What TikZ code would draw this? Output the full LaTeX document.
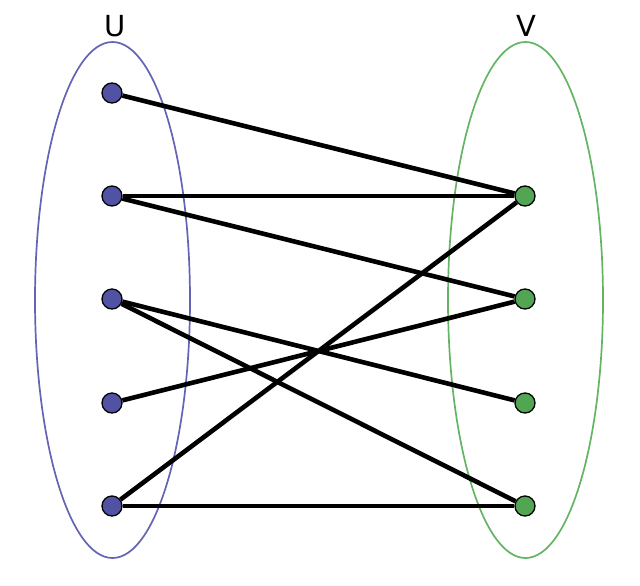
\documentclass[tikz,border=0pt]{standalone}
\usepackage{fontspec}
\setmainfont{DejaVu Sans}
\definecolor{ublue}{RGB}{82,82,165}
\definecolor{uline}{RGB}{100,100,180}
\definecolor{vgreen}{RGB}{82,165,82}
\definecolor{vline}{RGB}{100,180,100}
\begin{document}
\begin{tikzpicture}[x=1pt,y=-1pt,
  unode/.style={circle,draw=black,line width=1.3pt,fill=ublue,minimum size=20pt,inner sep=0pt},
  vnode/.style={circle,draw=black,line width=1.3pt,fill=vgreen,minimum size=20pt,inner sep=0pt},
  edge/.style={line width=4.6pt,black},
  lbl/.style={font=\fontsize{29}{31}\selectfont,inner sep=0pt}]
\useasboundingbox (0,0) rectangle (640,586);
\draw[uline,line width=1.7pt] (112.5,300) ellipse [x radius=77.5, y radius=258];
\draw[vline,line width=1.7pt] (525.5,300) ellipse [x radius=77.5, y radius=258];
\node[lbl] (lu) at (115,26) {U};
\node[lbl] (lv) at (526,26) {V};
\node[unode] (u1) at (112,93) {};
\node[unode] (u2) at (112,196) {};
\node[unode] (u3) at (112,299) {};
\node[unode] (u4) at (112,403) {};
\node[unode] (u5) at (112,506) {};
\node[vnode] (v1) at (525,196) {};
\node[vnode] (v2) at (525,299) {};
\node[vnode] (v3) at (525,403) {};
\node[vnode] (v4) at (525,506) {};
\draw[edge] (u1) -- (v1);
\draw[edge] (u2) -- (v1);
\draw[edge] (u2) -- (v2);
\draw[edge] (u3) -- (v3);
\draw[edge] (u3) -- (v4);
\draw[edge] (u4) -- (v2);
\draw[edge] (u5) -- (v1);
\draw[edge] (u5) -- (v4);
\end{tikzpicture}
\end{document}
